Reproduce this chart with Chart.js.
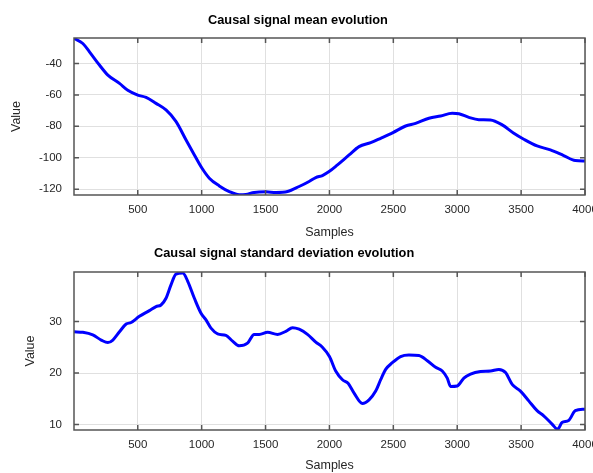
<!DOCTYPE html>
<html>
<head>
<meta charset="utf-8">
<script src="https://cdn.jsdelivr.net/npm/chart.js@4/dist/chart.umd.min.js"></script>
<style>
  body { margin: 0; background: #fff; }
  canvas { display: block; }
</style>
</head>
<body>
<canvas id="meanChart" width="593" height="240"></canvas>
<canvas id="stdChart" width="593" height="233"></canvas>
<script>
// values
const meanSamples = [1, 70, 122, 200, 266, 357, 422, 500, 565, 643, 721, 800, 878, 943, 1003, 1060, 1138, 1216, 1294, 1346, 1411, 1503, 1581, 1672, 1763, 1841, 1893, 1945, 2000, 2063, 2154, 2232, 2323, 2401, 2497, 2596, 2674, 2779, 2870, 2961, 3013, 3091, 3169, 3260, 3352, 3443, 3521, 3625, 3729, 3833, 3924, 4000];
const meanValues = [-24.0, -27.3, -32.6, -41.0, -47.4, -52.7, -57.0, -60.1, -61.6, -65.4, -69.6, -77.0, -88.7, -98.2, -106.7, -113.0, -117.9, -121.5, -123.6, -123.4, -122.1, -121.7, -122.1, -121.5, -118.3, -115.1, -112.6, -111.3, -108.6, -104.5, -98.2, -92.9, -90.4, -87.6, -84.0, -79.8, -78.1, -74.9, -73.4, -71.7, -72.0, -74.3, -75.8, -76.0, -79.1, -84.4, -88.2, -92.5, -95.0, -98.6, -101.8, -102.0];

const stdSamples = [1, 70, 148, 214, 266, 305, 357, 409, 448, 513, 591, 643, 682, 721, 760, 799, 852, 891, 943, 995, 1034, 1073, 1125, 1190, 1242, 1294, 1359, 1411, 1451, 1516, 1594, 1659, 1711, 1763, 1828, 1893, 1945, 2000, 2049, 2102, 2146, 2193, 2258, 2310, 2362, 2401, 2440, 2492, 2557, 2622, 2700, 2766, 2831, 2883, 2922, 2948, 3000, 3052, 3104, 3182, 3260, 3326, 3378, 3430, 3495, 3560, 3625, 3677, 3742, 3786, 3820, 3872, 3924, 4000];
const stdValues = [28.0, 27.9, 27.4, 26.4, 25.9, 26.4, 28.0, 29.5, 29.8, 31.0, 32.1, 32.9, 33.2, 34.5, 37.1, 39.2, 39.4, 37.8, 34.5, 31.6, 30.3, 28.7, 27.6, 27.3, 26.2, 25.3, 25.8, 27.5, 27.5, 27.9, 27.5, 28.1, 28.8, 28.5, 27.5, 26.0, 25.0, 23.2, 20.4, 18.7, 18.0, 16.1, 14.1, 14.8, 16.5, 18.7, 20.7, 22.0, 23.2, 23.5, 23.4, 22.4, 21.1, 20.4, 19.0, 17.4, 17.5, 19.0, 19.8, 20.3, 20.4, 20.7, 20.1, 17.8, 16.5, 14.6, 12.7, 11.7, 10.1, 9.1, 10.4, 10.8, 12.7, 13.0];

const sampleTicks = [500, 1000, 1500, 2000, 2500, 3000, 3500, 4000];
const meanTicks = [-120, -100, -80, -60, -40];
const stdTicks = [10, 20, 30];

Chart.defaults.font.family = '"Liberation Sans", Arial, sans-serif';
Chart.defaults.font.size = 11.5;
Chart.defaults.color = '#262626';

// box round the plot with inward ticks on all sides, plus the bold title
const frame = {
    id: 'frame',
    afterDraw(chart, args, opts) {
        const { ctx, chartArea: a, scales: { x, y } } = chart;
        ctx.save();
        ctx.strokeStyle = '#555';
        ctx.lineWidth = 1.5;
        ctx.strokeRect(a.left, a.top, a.right - a.left, a.bottom - a.top);
        ctx.beginPath();
        x.ticks.forEach(t => {
            const px = x.getPixelForValue(t.value);
            ctx.moveTo(px, a.top); ctx.lineTo(px, a.top + 5);
            ctx.moveTo(px, a.bottom); ctx.lineTo(px, a.bottom - 5);
        });
        y.ticks.forEach(t => {
            const py = y.getPixelForValue(t.value);
            ctx.moveTo(a.left, py); ctx.lineTo(a.left + 5, py);
            ctx.moveTo(a.right, py); ctx.lineTo(a.right - 5, py);
        });
        ctx.stroke();
        ctx.font = 'bold 12.8px "Liberation Sans", Arial, sans-serif';
        ctx.fillStyle = '#000';
        ctx.textBaseline = 'middle';
        ctx.textAlign = 'left';
        ctx.fillText(opts.text, opts.x, opts.y);
        ctx.restore();
    }
};

function makeChart(id, xs, ys, yTicks, yMin, yMax, opt) {
    return new Chart(document.getElementById(id), {
        type: 'line',
        data: {
            datasets: [{
                data: xs.map((s, i) => ({ x: s, y: ys[i] })),
                borderColor: '#0000ff',
                borderWidth: 3,
                pointRadius: 0,
                cubicInterpolationMode: 'monotone',
                fill: false
            }]
        },
        options: {
            responsive: false,
            animation: false,
            layout: { padding: { top: opt.top, right: 8, left: 0, bottom: 0 } },
            plugins: {
                legend: { display: false },
                tooltip: { enabled: false },
                frame: { text: opt.title, x: opt.titleX, y: opt.titleY }
            },
            scales: {
                x: {
                    type: 'linear',
                    min: 1,
                    max: 4000,
                    afterBuildTicks: s => { s.ticks = sampleTicks.map(v => ({ value: v })); },
                    afterFit: s => { s.height = opt.xHeight; s.paddingLeft = 0; s.paddingRight = 0; },
                    grid: { color: '#e0e0e0', drawTicks: false },
                    border: { display: false },
                    ticks: { padding: 8, maxRotation: 0, callback: v => String(v) },
                    title: { display: true, text: 'Samples', font: { size: 12.5 }, padding: { top: 0, bottom: 0 } }
                },
                y: {
                    min: yMin,
                    max: yMax,
                    afterBuildTicks: s => { s.ticks = yTicks.map(v => ({ value: v })); },
                    afterFit: s => { s.width = 74; s.paddingTop = 0; s.paddingBottom = 0; },
                    grid: { color: '#e0e0e0', drawTicks: false },
                    border: { display: false },
                    ticks: { padding: 12, callback: v => String(v) },
                    title: { display: true, text: 'Value', font: { size: 12.5 }, padding: { top: opt.yTitlePad, bottom: 0 } }
                }
            }
        },
        plugins: [frame]
    });
}

makeChart('meanChart', meanSamples, meanValues, meanTicks, -123.7, -23.8, {
    top: 38, xHeight: 45, title: 'Causal signal mean evolution', titleX: 208, titleY: 20, yTitlePad: 9.5
});
makeChart('stdChart', stdSamples, stdValues, stdTicks, 8.95, 39.6, {
    top: 32, xHeight: 43, title: 'Causal signal standard deviation evolution', titleX: 154, titleY: 13, yTitlePad: 23.5
});
</script>
</body>
</html>
